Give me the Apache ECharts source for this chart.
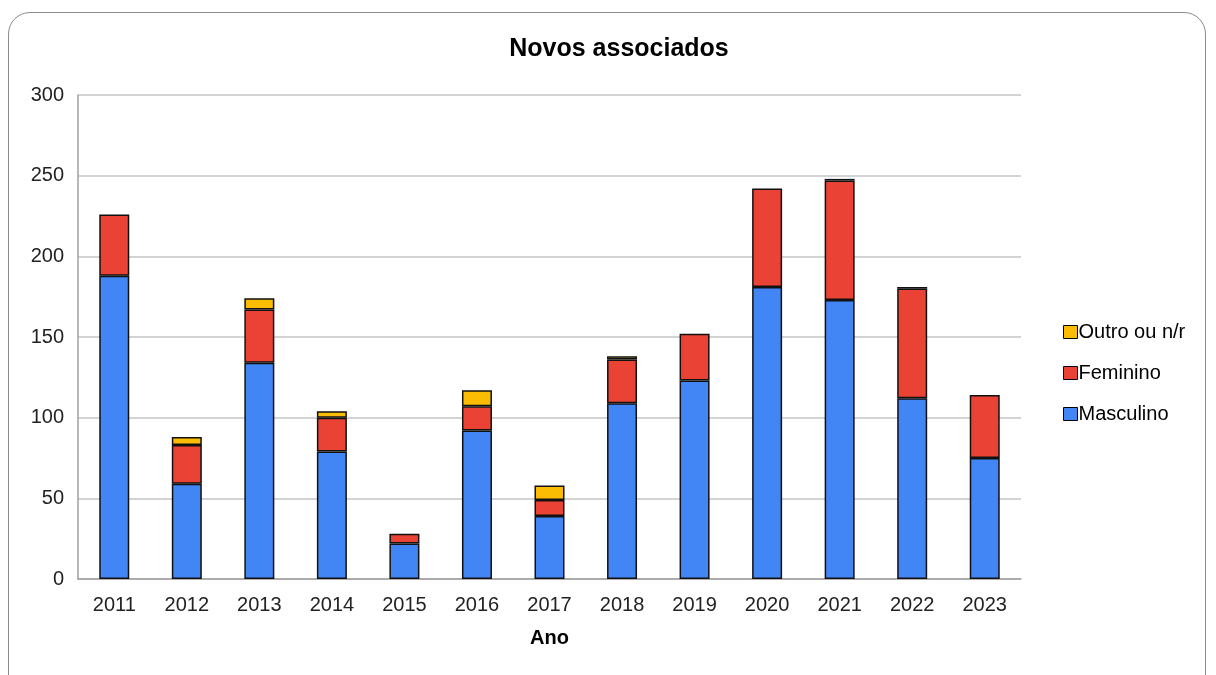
<!DOCTYPE html>
<html>
<head>
<meta charset="utf-8">
<script src="https://cdn.jsdelivr.net/npm/echarts@6/dist/echarts.min.js"></script>
<style>
  html, body { margin: 0; padding: 0; background: #fff; }
  .frame {
    position: absolute; left: 8px; top: 12px; width: 1198px; height: 690px;
    border: 1px solid #8c8c8c; border-radius: 22px; box-sizing: border-box;
  }
  #chart { position: absolute; left: 0; top: 0; width: 1216px; height: 675px; }
</style>
</head>
<body>
<div class="frame"></div>
<div id="chart"></div>
<script>
const anos = ['2011', '2012', '2013', '2014', '2015', '2016', '2017', '2018', '2019', '2020', '2021', '2022', '2023']
const masculino = [188, 59, 134, 79, 22, 92, 39, 109, 123, 181, 173, 112, 75]
const feminino = [38, 24, 33, 21, 6, 15, 10, 27, 29, 61, 74, 68, 39]
const outro = [0, 5, 7, 4, 0, 10, 9, 2, 0, 0, 1, 1, 0]

const chart = echarts.init(document.getElementById('chart'))
const fonte = 'Liberation Sans, Arial, sans-serif'

// zero: sem barra (evita a linha preta de borda)
const barra = (name, data, color) => ({
  name,
  type: 'bar',
  stack: 'total',
  data: data.map(v => (v === 0 ? null : v)),
  barWidth: 30,
  itemStyle: { color, borderColor: '#111', borderWidth: 1.5 }
})

chart.setOption({
  animation: false,
  textStyle: { fontFamily: fonte },
  title: {
    text: 'Novos associados',
    left: 614,
    textAlign: 'center',
    top: 32,
    textStyle: { fontSize: 25, fontWeight: 'bold', color: '#000', fontFamily: fonte }
  },
  legend: {
    orient: 'vertical',
    left: 1058,
    top: 317,
    itemWidth: 14,
    itemHeight: 13,
    itemGap: 21,
    icon: 'rect',
    itemStyle: { borderColor: '#000', borderWidth: 1 },
    textStyle: { fontSize: 20, color: '#000', padding: [0, 0, 0, -4] },
    data: ['Outro ou n/r', 'Feminino', 'Masculino']
  },
  grid: { left: 78, right: 195, top: 95, bottom: 96 },
  xAxis: {
    type: 'category',
    data: anos,
    name: 'Ano',
    nameLocation: 'middle',
    nameGap: 49,
    nameTextStyle: { fontSize: 20, fontWeight: 'bold', color: '#000' },
    axisLine: { lineStyle: { color: '#a0a0a0', width: 1.5 } },
    axisTick: { show: false },
    axisLabel: { fontSize: 20, color: '#222', margin: 16 }
  },
  yAxis: {
    type: 'value',
    min: 0,
    max: 300,
    interval: 50,
    axisLine: { show: true, lineStyle: { color: '#a0a0a0', width: 1.5 } },
    axisTick: { show: false },
    splitLine: { lineStyle: { color: '#c4c4c4', width: 1.5 } },
    axisLabel: { fontSize: 20, color: '#222', margin: 14 }
  },
  series: [
    barra('Masculino', masculino, '#4285F4'),
    barra('Feminino', feminino, '#EA4335'),
    barra('Outro ou n/r', outro, '#FBBC04')
  ]
})
</script>
</body>
</html>
